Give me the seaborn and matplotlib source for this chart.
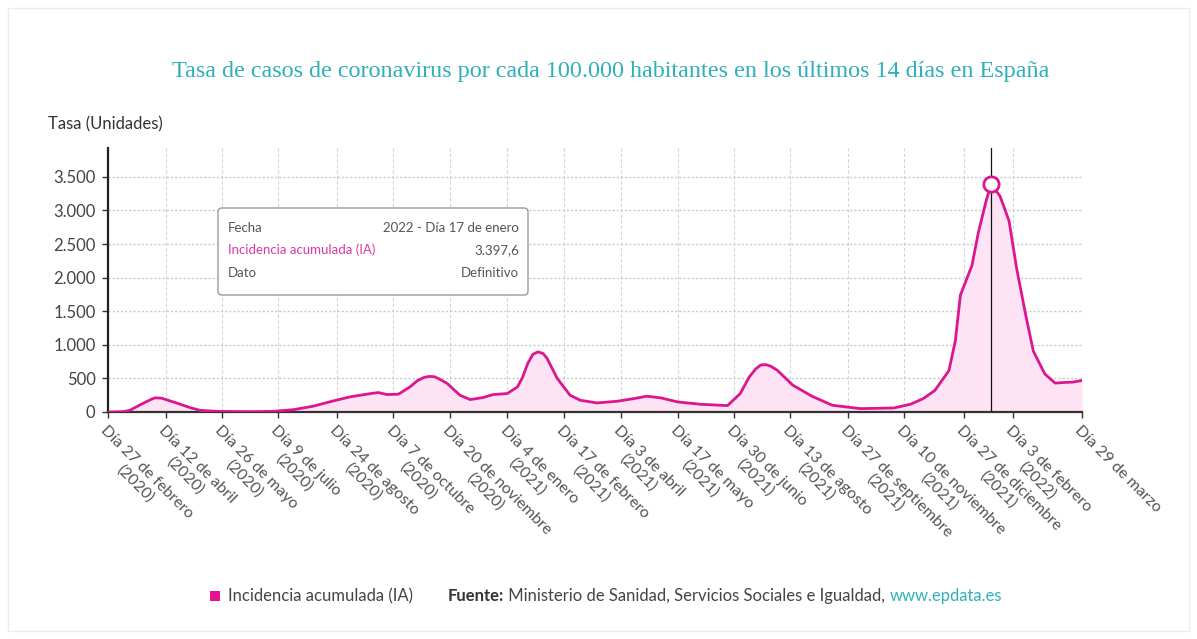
import matplotlib
matplotlib.use("Agg")
import matplotlib.pyplot as plt
from matplotlib.patches import FancyBboxPatch, Rectangle
import pandas as pd
import seaborn as sns

# Incidencia acumulada a 14 días por 100.000 habitantes (España)
fechas = [
    "2020-02-27", "2020-03-10", "2020-03-15", "2020-03-25", "2020-04-01", "2020-04-04",
    "2020-04-09", "2020-04-13", "2020-04-22", "2020-05-01", "2020-05-09", "2020-05-22",
    "2020-06-17", "2020-07-05", "2020-07-21", "2020-08-05", "2020-08-21", "2020-09-03",
    "2020-09-16", "2020-09-25", "2020-10-02", "2020-10-11", "2020-10-20", "2020-10-26",
    "2020-10-31", "2020-11-04", "2020-11-08", "2020-11-12", "2020-11-18", "2020-11-28",
    "2020-12-06", "2020-12-16", "2020-12-24", "2021-01-04", "2021-01-12", "2021-01-16",
    "2021-01-20", "2021-01-24", "2021-01-28", "2021-02-01", "2021-02-04", "2021-02-12",
    "2021-02-22", "2021-03-02", "2021-03-15", "2021-03-31", "2021-04-13", "2021-04-23",
    "2021-05-04", "2021-05-17", "2021-06-04", "2021-06-25", "2021-07-05", "2021-07-12",
    "2021-07-17", "2021-07-21", "2021-07-25", "2021-07-29", "2021-08-03", "2021-08-15",
    "2021-08-30", "2021-09-15", "2021-10-07", "2021-11-02", "2021-11-15", "2021-11-25",
    "2021-12-04", "2021-12-15", "2021-12-20", "2021-12-24", "2022-01-02", "2022-01-07",
    "2022-01-13", "2022-01-17", "2022-01-24", "2022-01-31", "2022-02-06", "2022-02-13",
    "2022-02-19", "2022-02-28", "2022-03-08", "2022-03-15", "2022-03-22", "2022-03-29",
]
incidencia = [
    0, 5, 25, 125, 190, 212,
    205, 180, 125, 65, 25, 10,
    5, 10, 35, 85, 165, 225,
    265, 290, 260, 265, 375, 470,
    515, 530, 525, 490, 425, 250,
    185, 215, 260, 275, 375, 520,
    725, 860, 895, 870, 800, 500,
    250, 175, 135, 160, 200, 235,
    210, 150, 115, 95, 275, 520,
    640, 700, 705, 680, 620, 400,
    235, 100, 50, 60, 115, 200,
    320, 615, 1055, 1740, 2180, 2670,
    3135, 3397.6, 3210, 2845, 2130, 1445,
    905, 565, 430, 440, 445, 470,
]

tick_fechas = [
    "2020-02-27", "2020-04-12", "2020-05-26", "2020-07-09", "2020-08-24", "2020-10-07",
    "2020-11-20", "2021-01-04", "2021-02-17", "2021-04-03", "2021-05-17", "2021-06-30",
    "2021-08-13", "2021-09-27", "2021-11-10", "2021-12-27", "2022-02-03", "2022-03-29",
]
tick_etiquetas = [
    "Día 27 de febrero\n(2020)", "Día 12 de abril\n(2020)", "Día 26 de mayo\n(2020)",
    "Día 9 de julio\n(2020)", "Día 24 de agosto\n(2020)", "Día 7 de octubre\n(2020)",
    "Día 20 de noviembre\n(2020)", "Día 4 de enero\n(2021)", "Día 17 de febrero\n(2021)",
    "Día 3 de abril\n(2021)", "Día 17 de mayo\n(2021)", "Día 30 de junio\n(2021)",
    "Día 13 de agosto\n(2021)", "Día 27 de septiembre\n(2021)", "Día 10 de noviembre\n(2021)",
    "Día 27 de diciembre\n(2021)", "Día 3 de febrero\n(2022)", "Día 29 de marzo",
]
y_ticks = [0, 500, 1000, 1500, 2000, 2500, 3000, 3500]

fecha_destacada = "2022-01-17"
texto_fecha_destacada = "2022 - Día 17 de enero"

ROSA = "#dc168f"
ROSA_RELLENO = "#fde3f3"
TURQUESA = "#2fb0bb"
GRIS_TEXTO = "#444444"

sns.set_theme(style="white")
plt.rcParams["font.family"] = ["Lato", "DejaVu Sans"]

df = pd.DataFrame({"fecha": pd.to_datetime(fechas), "ia": incidencia})

W, H = 1197, 639
fig = plt.figure(figsize=(W / 100, H / 100), dpi=100)
fig.patch.set_facecolor("white")

# thin frame around the whole card
fig.add_artist(Rectangle((8 / W, 8 / H), 1 - 16 / W, 1 - 16 / H, transform=fig.transFigure,
                         fill=False, edgecolor="#ececec", linewidth=1))

ax_left, ax_right, ax_bottom, ax_top = 108, 1082, 412, 148
ax = fig.add_axes([ax_left / W, 1 - ax_bottom / H, (ax_right - ax_left) / W, (ax_bottom - ax_top) / H])

ax.fill_between(df["fecha"], df["ia"], 0, color=ROSA_RELLENO, linewidth=0, zorder=1)
sns.lineplot(data=df, x="fecha", y="ia", ax=ax, color=ROSA, linewidth=2.0, zorder=3)

xmin, xmax = pd.Timestamp(fechas[0]), pd.Timestamp(fechas[-1])
ax.set_xlim(xmin, xmax)
ax.set_ylim(0, 3930)

ax.set_yticks(y_ticks)
ax.set_yticklabels([f"{v:,}".replace(",", ".") for v in y_ticks], fontsize=12, color=GRIS_TEXTO)
ax.set_xticks(pd.to_datetime(tick_fechas))
ax.set_xticklabels(tick_etiquetas, rotation=-45, ha="left", va="top", rotation_mode="anchor",
                   multialignment="center", fontsize=11.5, color="#555555")
ax.tick_params(axis="y", length=4, width=1, color="#333333", pad=5, left=True)
ax.tick_params(axis="x", length=4, width=1, color="#333333", pad=4, bottom=True)

ax.grid(True, axis="y", color="#c9c9c9", linestyle=(0, (1.5, 1.5)), linewidth=1)
ax.grid(True, axis="x", color="#d4d4d4", linestyle=(0, (3, 2)), linewidth=0.8)
ax.set_axisbelow(True)
ax.set_xlabel("")
ax.set_ylabel("")
for side in ("top", "right"):
    ax.spines[side].set_visible(False)
ax.spines["left"].set_color("#222222")
ax.spines["left"].set_linewidth(1.6)
ax.spines["bottom"].set_color("#333333")
ax.spines["bottom"].set_linewidth(1.6)
ax.spines["bottom"].set_linestyle((0, (2, 1)))

# highlighted point with its guide line
sel = df[df["fecha"] == pd.Timestamp(fecha_destacada)].iloc[0]
ax.axvline(sel["fecha"], color="#111111", linewidth=0.9, zorder=4)
ax.plot([sel["fecha"]], [sel["ia"]], marker="o", markersize=11, markerfacecolor="white",
        markeredgecolor=ROSA, markeredgewidth=2, zorder=5)

# title and y-axis caption
fig.text(611 / W, 1 - 72 / H, "Tasa de casos de coronavirus por cada 100.000 habitantes en los últimos 14 días en España",
         ha="center", va="center", fontsize=17.4, color=TURQUESA, family=["Liberation Serif", "DejaVu Serif"])
fig.text(48 / W, 1 - 124 / H, "Tasa (Unidades)", ha="left", va="center", fontsize=12, color="#333333")

# info box
inch = fig.dpi_scale_trans
box = FancyBboxPatch((218 / 100, (H - 295) / 100), 310 / 100, 87 / 100,
                     boxstyle="round,pad=0,rounding_size=0.04", transform=inch,
                     facecolor="white", edgecolor="#9a9a9a", linewidth=1, zorder=10)
fig.add_artist(box)
valor_txt = f"{sel['ia']:,.1f}".replace(",", "X").replace(".", ",").replace("X", ".")
filas = [
    ("Fecha", texto_fecha_destacada, "#555555", 228),
    ("Incidencia acumulada (IA)", valor_txt, "#d83aa5", 250),
    ("Dato", "Definitivo", "#555555", 273),
]
for izq, der, col, yp in filas:
    fig.text(228 / 100, (H - yp) / 100, izq, transform=inch, ha="left", va="center",
             fontsize=9.5, color=col, zorder=11)
    fig.text(519 / 100, (H - yp) / 100, der, transform=inch, ha="right", va="center",
             fontsize=9.5, color="#555555", zorder=11)

# footer: legend key and source line
fig.add_artist(Rectangle((210 / W, 1 - 601 / H), 10 / W, 10 / H, transform=fig.transFigure,
                         facecolor="#e5148f", edgecolor="none"))
fig.canvas.draw()
renderer = fig.canvas.get_renderer()
ypie = 1 - 596 / H
partes = [
    ("Incidencia acumulada (IA)", "normal", "#444444", 228),
    ("Fuente:", "bold", "#333333", 448),
    (" Ministerio de Sanidad, Servicios Sociales e Igualdad, ", "normal", "#444444", None),
    ("www.epdata.es", "normal", TURQUESA, None),
]
x_cursor = 0
for texto, peso, col, xpx in partes:
    x0 = xpx if xpx is not None else x_cursor
    t = fig.text(x0 / W, ypie, texto, ha="left", va="center", fontsize=12,
                 fontweight=peso, color=col)
    bb = t.get_window_extent(renderer=renderer)
    x_cursor = bb.x1

fig.savefig("out.png", dpi=100, facecolor="white")
